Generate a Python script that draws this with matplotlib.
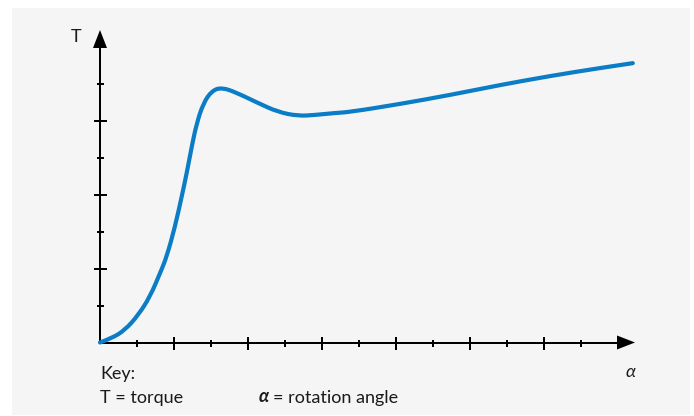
import matplotlib
matplotlib.use("Agg")
import matplotlib.pyplot as plt
import numpy as np
from matplotlib.patches import Rectangle, Polygon, PathPatch
from matplotlib.path import Path

# Curve (alpha in tick units, T in tick units)
alpha = [0.0, 0.316, 0.676, 1.035, 1.351, 1.622, 1.803, 2.027, 2.208, 2.343,
         2.478, 2.614, 2.792, 3.019, 3.289, 3.695, 4.270, 4.811, 5.351, 5.811,
         6.351, 6.757, 8.108, 9.459, 10.811, 12.162, 13.514, 14.40]
torque = [0.0, 0.114, 0.338, 0.743, 1.238, 1.870, 2.319, 3.130, 3.941, 4.573,
          5.292, 5.924, 6.465, 6.800, 6.895, 6.750, 6.473, 6.230, 6.122, 6.149,
          6.203, 6.230, 6.446, 6.689, 6.959, 7.203, 7.419, 7.55]

key_title = "Key:"
key_T = "T = torque"
key_a = "= rotation angle"
y_label = "T"
x_label = "α"

W, H, DPI = 694, 416, 100
fig = plt.figure(figsize=(W / DPI, H / DPI), dpi=DPI, facecolor="white")

# pixel geometry
ox, oy, unit = 100.0, 342.5, 37.0
ax = fig.add_axes([0, 0, 1, 1])
ax.set_xlim(-ox / unit, (W - ox) / unit)
ax.set_ylim((oy - H) / unit, oy / unit)
ax.set_facecolor("none")
for s in ["top", "right"]:
    ax.spines[s].set_visible(False)

def px(x, y):
    return ((x - ox) / unit, (oy - y) / unit)

# grey panel
fig.patches.append(Rectangle((12 / W, 1 - 415 / H), (690 - 12) / W, (415 - 8) / H,
                             transform=fig.transFigure, facecolor="#f5f5f5",
                             edgecolor="none", zorder=-10))

# axes spines with ticks
lw = 2.0
xtip, xbase = px(635, 0)[0], px(617, 0)[0]
ytip, ybase = px(0, 30)[1], px(0, 48)[1]
ax.spines["left"].set_position(("data", 0))
ax.spines["bottom"].set_position(("data", 0))
ax.spines["left"].set_bounds(0, ybase)
ax.spines["bottom"].set_bounds(0, xbase)
for s in ["left", "bottom"]:
    ax.spines[s].set_linewidth(lw * 72 / DPI)
    ax.spines[s].set_capstyle("butt")

ax.set_xticks(np.arange(2, 13, 2))
ax.set_xticks(np.arange(1, 14, 2), minor=True)
ax.set_yticks(np.arange(2, 7, 2))
ax.set_yticks(np.arange(1, 8, 2), minor=True)
ax.tick_params(which="major", direction="inout", length=13 * 72 / DPI,
               width=lw * 72 / DPI, labelbottom=False, labelleft=False)
ax.tick_params(which="minor", direction="inout", length=7 * 72 / DPI,
               width=lw * 72 / DPI)

# arrow heads
hw = 7 / unit
ax.add_patch(Polygon([(xbase, -hw), (xtip, 0), (xbase, hw)], closed=True,
                     facecolor="black", edgecolor="none", zorder=3))
ax.add_patch(Polygon([(-hw, ybase), (0, ytip), (hw, ybase)], closed=True,
                     facecolor="black", edgecolor="none", zorder=3))

# curve: read points used as control points of a smooth quadratic Bezier path
pts = np.column_stack([alpha, torque])
verts = [pts[0]]
codes = [Path.MOVETO]
for i in range(1, len(pts) - 1):
    mid = (pts[i] + pts[i + 1]) / 2 if i < len(pts) - 2 else pts[i + 1]
    verts += [pts[i], mid]
    codes += [Path.CURVE3, Path.CURVE3]
ax.add_patch(PathPatch(Path(verts, codes), facecolor="none", edgecolor="#0a7dc6",
                       lw=3.0, capstyle="round", joinstyle="round", zorder=4,
                       clip_on=False))

fam = ["Lato", "DejaVu Sans"]
fs = 13
col = "#1a1a1a"
tx, ty = px(76.5, 42.5)
ax.text(tx, ty, y_label, ha="center", va="baseline", fontsize=fs, family=fam, color=col)
tx, ty = px(630, 377)
ax.text(tx, ty, x_label, ha="center", va="baseline", fontsize=fs, family=fam,
        style="italic", color=col)
tx, ty = px(100, 379.5)
ax.text(tx, ty, key_title, ha="left", va="baseline", fontsize=fs, family=fam, color=col)
tx, ty = px(100, 402.5)
ax.text(tx, ty, key_T, ha="left", va="baseline", fontsize=fs, family=fam, color=col)
tx, ty = px(259, 402.5)
ax.text(tx, ty, x_label, ha="left", va="baseline", fontsize=fs, family=fam,
        style="italic", weight="bold", color=col)
tx, ty = px(273, 402.5)
ax.text(tx, ty, key_a, ha="left", va="baseline", fontsize=fs, family=fam, color=col)

fig.savefig("out.png", dpi=DPI, facecolor="white")
